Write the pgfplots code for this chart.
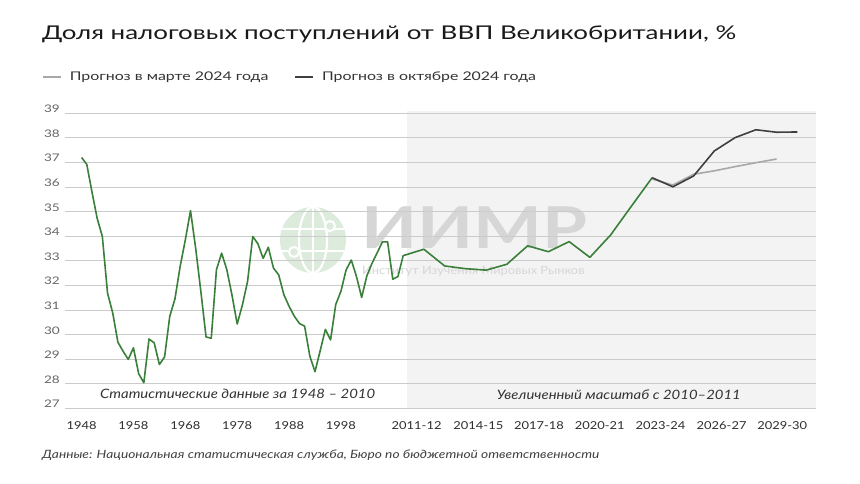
\documentclass[border=0pt]{standalone}
\usepackage{fontspec}
\setmainfont{Lato}
\usepackage{pgfplots}
\pgfplotsset{compat=1.18}

\definecolor{histgreen}{HTML}{3A7F3A}
\definecolor{octline}{HTML}{3F3F3F}
\definecolor{marline}{HTML}{A8A8A8}
\definecolor{zoombg}{HTML}{F3F3F3}
\definecolor{gridc}{HTML}{CBCBCB}
\definecolor{wmgray}{HTML}{D6D6D6}
\definecolor{wmgreen}{HTML}{DCEBDC}

\newcommand\wide[2]{\fontsize{#1}{#1}\selectfont\addfontfeatures{FakeStretch=#2}}

\begin{document}
\begin{tikzpicture}
\useasboundingbox (0,0) rectangle (860bp,484bp);
\fill[white] (0,0) rectangle (860bp,484bp);

% title
\node[anchor=base west, inner sep=0, font=\wide{19}{1.37}, text=black!90]
  at (42bp,444bp) {Доля налоговых поступлений от ВВП Великобритании, \%};

% zoomed-scale background and watermark (behind the grid)
\fill[zoombg] (406.7bp,75bp) rectangle (816bp,372.5bp);
\begin{scope}[shift={(313bp,244bp)}]
  \fill[wmgreen] (0,0) circle[radius=33bp];
  \draw[white, line width=2.2bp] (0,0) ellipse[x radius=14bp, y radius=33bp];
  \draw[white, line width=2.2bp] (0bp,-33bp) -- (0bp,33bp);
  \draw[white, line width=2.2bp] (-31bp,11bp) -- (31bp,11bp);
  \draw[white, line width=2.2bp] (-31bp,-11bp) -- (31bp,-11bp);
  \filldraw[fill=wmgreen, draw=white, line width=2bp] (-19bp,-12bp) circle[radius=5bp];
  \filldraw[fill=wmgreen, draw=white, line width=2bp] (17bp,14bp) circle[radius=5bp];
\end{scope}
\node[anchor=west, inner sep=0, text=wmgray, font=\bfseries\wide{58}{1.26}]
      at (361bp,256bp) {ИИМР};
\node[anchor=west, inner sep=0, text=wmgray, font=\wide{11.5}{1.12}]
      at (362bp,212.3bp) {Институт Изучения Мировых Рынков};

\begin{axis}[
    at={(65bp,75.7bp)}, anchor=south west,
    scale only axis, width=751bp, height=295bp,
    xmin=1944.8, xmax=2089.6, ymin=27, ymax=39,
    axis line style={draw=none},
    major tick style={draw=none},
    ymajorgrids, grid style={line width=0.8bp, gridc},
    ytick={27,28,...,39},
    xtick={1948,1958,1968,1978,1988,1998,2012.6,2024.5,2036.2,2047.9,2059.6,2071.4,2083.1},
    xticklabels={1948,1958,1968,1978,1988,1998,2011-12,2014-15,2017-18,2020-21,2023-24,2026-27,2029-30},
    /pgf/number format/assume math mode=true,
    yticklabel style={anchor=base east, inner sep=0pt, xshift=-5bp, yshift=0.5bp,
        font=\wide{10.5}{1.3}, text=black!60},
    xticklabel style={anchor=base, yshift=-21bp,
        font=\wide{11}{1.18}, text=black!82},
    legend columns=2,
    legend style={at={(axis description cs:-0.0306,1.123)}, anchor=west,
        draw=none, fill=none, inner sep=0pt,
        font=\wide{12}{1.33}, text=black!80,
        /tikz/every odd column/.append style={column sep=6bp},
        /tikz/every even column/.append style={column sep=24bp}},
    legend image code/.code={\draw[#1] (0bp,0bp) -- (18bp,0bp);},
    every axis plot/.append style={line width=1.6bp, line join=round},
]

% historical data 1948-2010 and fiscal years (placed at enlarged scale)
\addplot[histgreen, forget plot] coordinates {
(1948,37.2) (1949,36.92) (1950,35.8) (1951,34.73) (1952,33.99) (1953,31.69)
(1954,30.88) (1955,29.69) (1956,29.32) (1957,28.99) (1958,29.46) (1959,28.41)
(1960,28.04) (1961,29.82) (1962,29.66) (1963,28.78) (1964,29.09) (1965,30.74)
(1966,31.45) (1967,32.77) (1968,33.85) (1969,35.04) (1970,33.5) (1971,31.74)
(1972,29.9) (1973,29.85) (1974,32.64) (1975,33.31) (1976,32.64) (1977,31.6)
(1978,30.43) (1979,31.2) (1980,32.16) (1981,33.99) (1982,33.69) (1983,33.1)
(1984,33.55) (1985,32.7) (1986,32.43) (1987,31.62) (1988,31.15) (1989,30.75)
(1990,30.45) (1991,30.34) (1992,29.13) (1993,28.49) (1994,29.34) (1995,30.21)
(1996,29.78) (1997,31.22) (1998,31.76) (1999,32.63) (2000,33.03) (2001,32.36)
(2002,31.51) (2003,32.39) (2004,32.9) (2005,33.33) (2006,33.77) (2007,33.77)
(2008,32.25) (2009,32.36) (2010,33.21)
(2014,33.47) (2018,32.79) (2022,32.68) (2026,32.62) (2030,32.86) (2034,33.61)
(2038,33.37) (2042,33.78) (2046,33.14) (2050,34.05) (2054,35.22) (2058,36.38)
};

% March 2024 forecast
\addplot[marline] coordinates {
(2058,36.33) (2062,36.08) (2066,36.52) (2070,36.66) (2074,36.83) (2078,36.99) (2082,37.14)
};
\addlegendentry{Прогноз в марте 2024 года}

% October 2024 forecast
\addplot[octline] coordinates {
(2058,36.38) (2062,36.01) (2066,36.45) (2070,37.47) (2074,38.01) (2078,38.33) (2082,38.23) (2086,38.24)
};
\addlegendentry{Прогноз в октябре 2024 года}

\end{axis}

% annotations
\node[anchor=base west, inner sep=0, font=\itshape\wide{13}{1.15}, text=black!80]
  at (100bp,85bp) {Статистические данные за 1948 – 2010};
\node[anchor=base west, inner sep=0, font=\itshape\wide{13}{1.15}, text=black!80]
  at (496.7bp,84bp) {Увеличенный масштаб с 2010–2011};

% source
\node[anchor=base west, inner sep=0, font=\itshape\wide{11.5}{1.2}, text=black!75]
  at (42bp,26bp) {Данные: Национальная статистическая служба, Бюро по бюджетной ответственности};
\end{tikzpicture}
\end{document}
